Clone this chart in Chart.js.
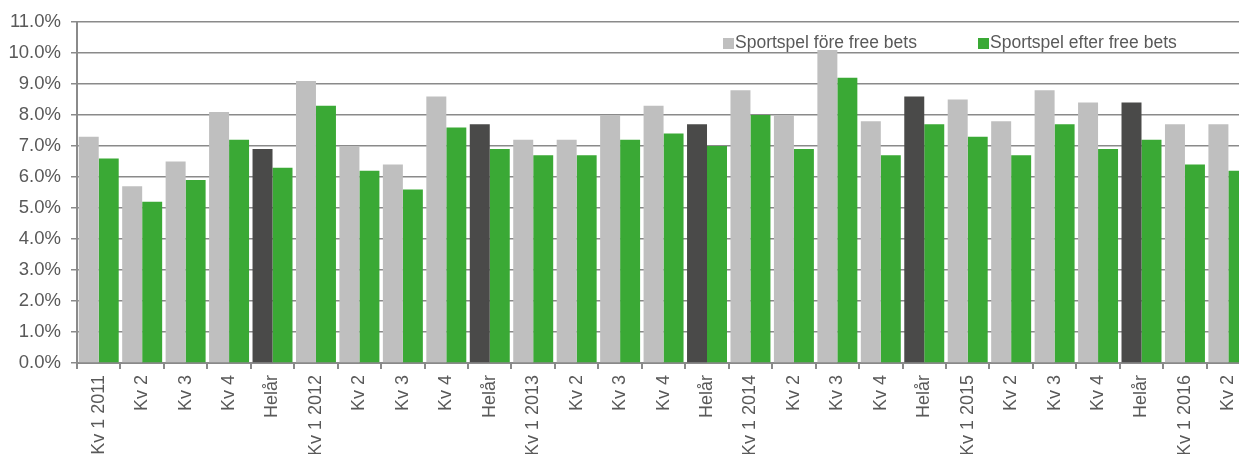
<!DOCTYPE html>
<html>
<head>
<meta charset="utf-8">
<script src="https://cdn.jsdelivr.net/npm/chart.js@4"></script>
<style>
  html, body { margin: 0; padding: 0; background: #fff; overflow: hidden; }
  #wrap { position: relative; width: 1256px; height: 454px; }
  .legendItem {
    position: absolute; top: 32px; font: 17.5px "Liberation Sans", Arial, sans-serif;
    color: #595959; white-space: nowrap; line-height: 20px;
  }
  .legendItem span {
    display: inline-block; width: 11px; height: 11px; margin-right: 1px; vertical-align: -1px;
  }
</style>
</head>
<body>
<div id="wrap">
  <canvas id="myChart" width="1256" height="454"></canvas>
  <div class="legendItem" style="left:723px"><span style="background:#bfbfbf"></span>Sportspel före free bets</div>
  <div class="legendItem" style="left:978px"><span style="background:#3aa935"></span>Sportspel efter free bets</div>
</div>
<script>
'use strict';

// categories along the x axis
let categories = ['Kv 1 2011', 'Kv 2', 'Kv 3', 'Kv 4', 'Helår',
    'Kv 1 2012', 'Kv 2', 'Kv 3', 'Kv 4', 'Helår',
    'Kv 1 2013', 'Kv 2', 'Kv 3', 'Kv 4', 'Helår',
    'Kv 1 2014', 'Kv 2', 'Kv 3', 'Kv 4', 'Helår',
    'Kv 1 2015', 'Kv 2', 'Kv 3', 'Kv 4', 'Helår',
    'Kv 1 2016', 'Kv 2'];

// values in percent
let foreFreeBets = [7.3, 5.7, 6.5, 8.1, 6.9,
    9.1, 7.0, 6.4, 8.6, 7.7,
    7.2, 7.2, 8.0, 8.3, 7.7,
    8.8, 8.0, 10.1, 7.8, 8.6,
    8.5, 7.8, 8.8, 8.4, 8.4,
    7.7, 7.7];
let efterFreeBets = [6.6, 5.2, 5.9, 7.2, 6.3,
    8.3, 6.2, 5.6, 7.6, 6.9,
    6.7, 6.7, 7.2, 7.4, 7.0,
    8.0, 6.9, 9.2, 6.7, 7.7,
    7.3, 6.7, 7.7, 6.9, 7.2,
    6.4, 6.2];

let seriesNames = ['Sportspel före free bets', 'Sportspel efter free bets'];
let yMin = 0;
let yMax = 11;
let yStep = 1;

let greyColor = '#bfbfbf';
let darkColor = '#4a4a49';
let greenColor = '#3aa935';
let lineColor = '#8a8a8a';
let textColor = '#595959';

// the full year bars are drawn darker
let foreColors = [];
for (let i = 0; i < categories.length; i++) {
    if (categories[i] === 'Helår') {
        foreColors.push(darkColor);
    } else {
        foreColors.push(greyColor);
    }
}

let fontFamily = '"Liberation Sans", Arial, sans-serif';

function viewChart() {
    let ctx = document.getElementById('myChart').getContext('2d');
    let chart = new Chart(ctx, {
        type: 'bar',
        data: {
            labels: categories,
            datasets: [{
                label: seriesNames[0],
                backgroundColor: foreColors,
                data: foreFreeBets,
                categoryPercentage: 0.92,
                barPercentage: 1.0
            },
            {
                label: seriesNames[1],
                backgroundColor: greenColor,
                data: efterFreeBets,
                categoryPercentage: 0.92,
                barPercentage: 1.0
            }]
        },
        options: {
            responsive: false,
            animation: false,
            devicePixelRatio: 1,
            layout: { padding: { top: 22, left: 0, right: 0, bottom: 0 } },
            plugins: {
                legend: { display: false },
                tooltip: { enabled: false }
            },
            scales: {
                x: {
                    offset: true,
                    grid: {
                        offset: true,
                        drawOnChartArea: false,
                        drawTicks: true,
                        tickLength: 6,
                        color: lineColor,
                        lineWidth: 2
                    },
                    border: { display: true, color: lineColor, width: 2 },
                    ticks: {
                        autoSkip: false,
                        minRotation: 90,
                        maxRotation: 90,
                        padding: 6,
                        color: textColor,
                        font: { family: fontFamily, size: 18 }
                    },
                    afterFit: function (scale) {
                        scale.height = 91;
                    }
                },
                y: {
                    min: yMin,
                    max: yMax,
                    grid: {
                        color: lineColor,
                        lineWidth: 1.5,
                        tickLength: 6,
                        drawTicks: true
                    },
                    border: { display: true, color: lineColor, width: 2 },
                    ticks: {
                        stepSize: yStep,
                        padding: 10,
                        color: textColor,
                        font: { family: fontFamily, size: 18.5 },
                        callback: function (value) {
                            return value.toFixed(1) + '%';
                        }
                    },
                    afterFit: function (scale) {
                        scale.width = 77;
                    }
                }
            }
        }
    });
    return chart;
}

viewChart();
</script>
</body>
</html>
